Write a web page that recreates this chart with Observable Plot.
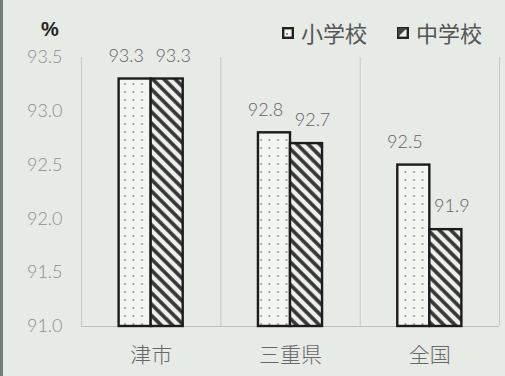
<!DOCTYPE html>
<html><head><meta charset="utf-8">
<script src="https://cdn.jsdelivr.net/npm/d3@7"></script>
<script src="https://cdn.jsdelivr.net/npm/@observablehq/plot@0.6"></script>
<style>
html,body{margin:0;padding:0;}
body{width:505px;height:376px;background:#e6ebe6;overflow:hidden;}
#wrap{position:relative;width:505px;height:376px;}
#hdr{position:absolute;left:0;top:0;width:505px;height:46px;}
#edge{position:absolute;left:0;top:0;width:3px;height:376px;background:#737d77;}
.pct{position:absolute;left:41px;top:19px;font:bold 20px/20px "Liberation Sans",sans-serif;color:#222;}
.lg{position:absolute;top:20px;font:22px/24px "Noto Sans CJK JP",sans-serif;color:#555;}
.ic{position:absolute;top:27px;}
#chart svg{display:block;}
</style></head>
<body><div id="wrap"><div id="chart"></div><div id="edge"></div><div id="hdr"></div></div>
<script>
const categories = ["津市", "三重県", "全国"];
const series = ["小学校", "中学校"];
const elementary = [93.3, 92.8, 92.5];
const juniorHigh = [93.3, 92.7, 91.9];
const yTicks = [91.0, 91.5, 92.0, 92.5, 93.0, 93.5];

const rowsA = categories.map((c, i) => ({cat: c, i, series: series[0], value: elementary[i]}));
const rowsB = categories.map((c, i) => ({cat: c, i, series: series[1], value: juniorHigh[i]}));

// header: unit label and legend
const hdr = document.getElementById("hdr");
hdr.innerHTML = `
<div class="pct">%</div>
<svg class="ic" style="left:282px" width="12" height="12"><rect x="1.2" y="1.2" width="9.6" height="9.6" fill="#f3f5f1" stroke="#222" stroke-width="2.4"/><circle cx="5" cy="7" r="0.9" fill="#666"/></svg>
<div class="lg" style="left:301px">${series[0]}</div>
<svg class="ic" style="left:397px" width="12" height="12"><rect x="1.2" y="1.2" width="9.6" height="9.6" fill="#eef0ec" stroke="#222" stroke-width="2.4"/><polygon points="1,1 10,1 1,10" fill="#444"/></svg>
<div class="lg" style="left:416px">${series[1]}</div>`;

const half = 0.23; // bar width in category-band units
const lo = yTicks[0], hi = yTicks[yTicks.length - 1];

const chart = Plot.plot({
  width: 505,
  height: 376,
  marginLeft: 81,
  marginRight: 6,
  marginTop: 57,
  marginBottom: 50,
  x: {domain: [0, categories.length], axis: null},
  y: {domain: [lo, hi], ticks: yTicks, tickFormat: d => d.toFixed(1), tickSize: 0, tickPadding: 19, label: null},
  style: {background: "transparent", fontSize: "18px", fontFamily: "Lato, 'DejaVu Sans', sans-serif", color: "#8b908c", fontWeight: 300},
  marks: [
    Plot.ruleX(d3.range(categories.length + 1), {x: d => d, y1: lo, y2: hi, stroke: "#c4c9c5", strokeWidth: 1}),
    Plot.ruleY([lo], {stroke: "#bcc1bd", strokeWidth: 1}),
    Plot.rectY(rowsA, {x1: d => d.i + 0.5 - half, x2: d => d.i + 0.5, y1: lo, y2: "value", fill: "url(#dots)", stroke: "#1c1c1c", strokeWidth: 2.4}),
    Plot.rectY(rowsB, {x1: d => d.i + 0.5, x2: d => d.i + 0.5 + half, y1: lo, y2: "value", fill: "url(#stripes)", stroke: "#1c1c1c", strokeWidth: 2.4}),
    Plot.text(rowsA, {x: d => d.i + 0.5 - half / 2, y: "value", text: d => d.value.toFixed(1), dx: -9, dy: -23, fontSize: 18, fill: "#626262"}),
    Plot.text(rowsB, {x: d => d.i + 0.5 + half / 2, y: "value", text: d => d.value.toFixed(1), dx: 6, dy: -23, fontSize: 18, fill: "#626262"}),
    Plot.text(categories, {x: (d, i) => i + 0.5, y: lo, text: d => d, dy: 29, fontSize: 21, fill: "#686868", fontFamily: "'Noto Sans CJK JP', sans-serif", fontWeight: 300})
  ]
});

const defs = d3.select(chart).insert("defs", ":first-child");
const pd = defs.append("pattern").attr("id", "dots").attr("patternUnits", "userSpaceOnUse")
  .attr("width", 8.5).attr("height", 8).attr("x", 2);
pd.append("rect").attr("width", 8.5).attr("height", 8).attr("fill", "#f3f5f1");
pd.append("circle").attr("cx", 4).attr("cy", 4).attr("r", 1).attr("fill", "#8a8c88");
const ps = defs.append("pattern").attr("id", "stripes").attr("patternUnits", "userSpaceOnUse")
  .attr("width", 8).attr("height", 8).attr("patternTransform", "rotate(45)");
ps.append("rect").attr("width", 8).attr("height", 8).attr("fill", "#eef0ec");
ps.append("rect").attr("y", 2.2).attr("width", 8).attr("height", 3.6).attr("fill", "#333");

document.getElementById("chart").appendChild(chart);
</script></body></html>
